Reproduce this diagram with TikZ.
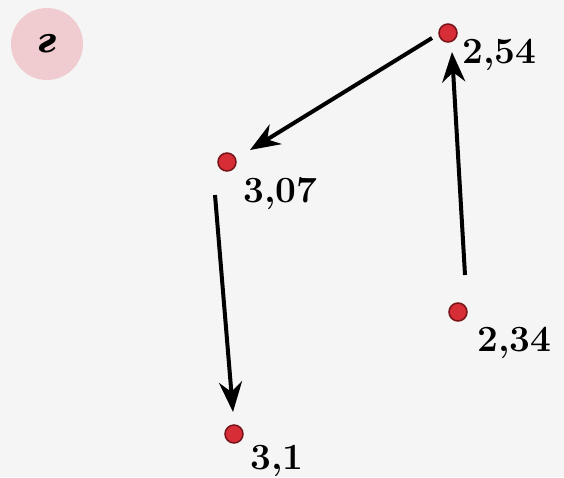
\documentclass[tikz,border=0pt]{standalone}
\usepackage{fontspec}
\newfontfamily\cyrfont{DejaVu Serif}
\usetikzlibrary{arrows.meta}
\definecolor{paper}{RGB}{245,245,245}
\definecolor{badge}{RGB}{240,203,208}
\definecolor{dotred}{RGB}{215,45,55}
\definecolor{dotrim}{RGB}{120,20,25}
\tikzset{
    pt/.style={circle,fill=dotred,draw=dotrim,line width=1.5pt,inner sep=0pt,minimum size=18pt},
    val/.style={anchor=base west,inner sep=0pt,
        font=\fontsize{37}{40}\selectfont\bfseries\addfontfeatures{FakeStretch=1.1}},
    jump/.style={line width=4pt,-{Stealth[length=30pt,width=23pt]}},
}

\begin{document}
\begin{tikzpicture}[x=1pt,y=-1pt]
            \fill[paper] (0,0) rectangle (564,477);
            \useasboundingbox (0,0) rectangle (564,477);
            % badge
            \node[circle,fill=badge,minimum size=72pt,inner sep=0pt,
                  font=\fontsize{34}{36}\selectfont\cyrfont\bfseries\itshape] (tag) at (47,44) {г};
            % points
            \node[pt] (d254) at (448,33) {};
            \node[pt] (d307) at (227,162) {};
            \node[pt] (d31) at (234,434) {};
            \node[pt] (d234) at (458,312) {};
            \node[val] (l254) at (462,63) {2,54};
            \node[val] (l307) at (243,202) {3,07};
            \node[val] (l31) at (250,469) {3,1};
            \node[val] (l234) at (477,351) {2,34};
            % arrows
            \draw[jump] ([shift={(-16,5)}]d254.center) -- ([shift={(23,-12)}]d307.center);
            \draw[jump] ([shift={(-12,33)}]d307.center) -- ([shift={(-1,-22)}]d31.center);
            \draw[jump] ([shift={(7,-37)}]d234.center) -- ([shift={(4,19)}]d254.center);
        \end{tikzpicture}
\end{document}
